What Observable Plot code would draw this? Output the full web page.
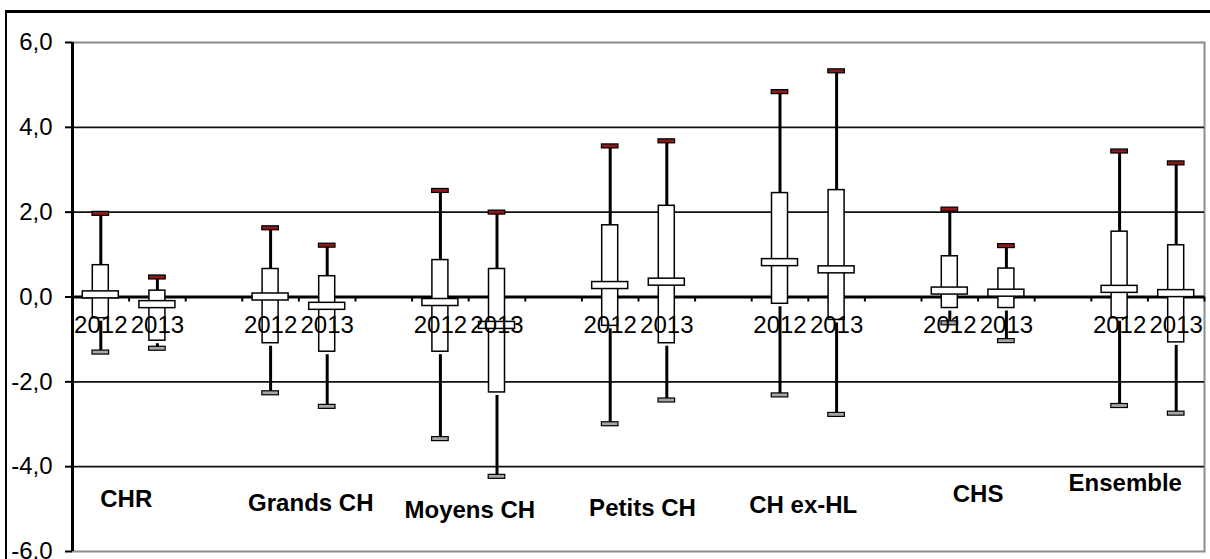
<!DOCTYPE html>
<html><head><meta charset="utf-8">
<script src="https://cdn.jsdelivr.net/npm/d3@7"></script>
<script src="https://cdn.jsdelivr.net/npm/@observablehq/plot@0.6"></script>
<style>
body{margin:0;background:#fff;overflow:hidden}
#wrap{position:relative;width:1210px;height:559px;overflow:hidden;background:#fff}
#border{position:absolute;left:5px;top:10px;width:1300px;height:700px;border-top:3px solid #000;border-left:2px solid #000;pointer-events:none}
</style></head><body>
<div id="wrap"><div id="chart"></div><div id="border"></div></div>
<script>
// ---- data ----
const categories = ["CHR", "Grands CH", "Moyens CH", "Petits CH", "CH ex-HL", "CHS", "Ensemble"];
const years = ["2012", "2013"];
// values listed category by category, 2012 then 2013
const maxValues    = [1.96, 0.46, 1.62, 1.21, 2.50, 1.99, 3.55, 3.67, 4.83, 5.32, 2.06, 1.20, 3.43, 3.15];
const q3Values     = [0.75, 0.15, 0.66, 0.49, 0.87, 0.66, 1.69, 2.15, 2.45, 2.52, 0.96, 0.67, 1.54, 1.22];
const medianValues = [0.05, -0.18, 0.00, -0.22, -0.13, -0.67, 0.27, 0.35, 0.81, 0.64, 0.14, 0.09, 0.18, 0.08];
const q1Values     = [-0.50, -1.03, -1.09, -1.29, -1.29, -2.25, -0.68, -1.09, -0.16, -0.54, -0.26, -0.26, -0.50, -1.07];
const minValues    = [-1.31, -1.22, -2.27, -2.59, -3.35, -4.24, -3.00, -2.44, -2.32, -2.78, -0.62, -1.04, -2.57, -2.75];
const yTicks = [-6, -4, -2, 0, 2, 4, 6];
// category label annotations (position in slot units / value units)
const labelX = [0.95, 4.21, 7.02, 10.07, 12.91, 16.0, 18.6];
const labelY = [-4.76, -4.86, -5.03, -4.99, -4.91, -4.64, -4.39];

// ---- build table ----
const rows = [];
categories.forEach((c, ci) => years.forEach((yr, yi) => {
  const k = ci * 2 + yi;
  rows.push({category: c, year: yr, slot: ci * 3 + yi,
    max: maxValues[k], q3: q3Values[k], median: medianValues[k], q1: q1Values[k], min: minValues[k]});
}));
const nSlots = categories.length * 3 - 1;
const slotEdges = d3.range(1, nSlots + 1);
const catLabels = categories.map((c, i) => ({name: c, x: labelX[i], y: labelY[i]}));
const gridValues = yTicks.filter(v => v !== 0 && Math.abs(v) !== 6);
const fmt = d => d.toFixed(1).replace(".", ",");

const chart = Plot.plot({
  width: 1210, height: 559,
  marginLeft: 72, marginRight: 6, marginTop: 42, marginBottom: 8,
  style: {background: "transparent", fontFamily: "'Liberation Sans', Arial, sans-serif", color: "#000"},
  x: {domain: [0, nSlots], axis: null},
  y: {domain: [-6, 6], axis: null},
  marks: [
    Plot.frame({stroke: "#8c8c8c", strokeWidth: 2}),
    Plot.ruleY(gridValues, {stroke: "#111", strokeWidth: 1.7}),
    Plot.ruleY([0], {stroke: "#000", strokeWidth: 3}),
    // whiskers
    Plot.ruleX(rows, {x: d => d.slot + 0.5, y1: "q3", y2: "max", stroke: "#000", strokeWidth: 3}),
    Plot.ruleX(rows, {x: d => d.slot + 0.5, y1: "q1", y2: "min", insetTop: 3, stroke: "#000", strokeWidth: 3}),
    // boxes
    Plot.rect(rows, {x1: "slot", x2: d => d.slot + 1, y1: "q1", y2: "q3",
      insetLeft: 20.3, insetRight: 20.3, fill: "#fff", stroke: "#000", strokeWidth: 1.5}),
    // caps
    Plot.rect(rows, {x1: "slot", x2: d => d.slot + 1, y1: "max", y2: "max",
      insetLeft: 20, insetRight: 20, insetTop: -2, insetBottom: -2, fill: "#8b1a1a", stroke: "#000", strokeWidth: 1.2}),
    Plot.rect(rows, {x1: "slot", x2: d => d.slot + 1, y1: "min", y2: "min",
      insetLeft: 20, insetRight: 20, insetTop: -2, insetBottom: -2, fill: "#a6a6a6", stroke: "#000", strokeWidth: 1.2}),
    // medians
    Plot.rect(rows, {x1: "slot", x2: d => d.slot + 1, y1: "median", y2: "median",
      insetLeft: 10.3, insetRight: 10.3, insetTop: -3.5, insetBottom: -3.5, fill: "#fff", stroke: "#000", strokeWidth: 1.5}),
    // y axis
    Plot.ruleX([0], {stroke: "#000", strokeWidth: 3}),
    Plot.axisY({ticks: yTicks, tickFormat: fmt, tickSize: 7, tickPadding: 13, fontSize: 24, strokeWidth: 2}),
    // x ticks on zero line
    Plot.ruleX(slotEdges, {x: d => d, y1: 0, y2: 0, insetBottom: -5, stroke: "#000", strokeWidth: 2}),
    // year labels
    Plot.text(rows, {x: d => d.slot + 0.5, y: 0, dy: 28, text: "year", fontSize: 24, fill: "#000"}),
    // category labels
    Plot.text(catLabels, {x: "x", y: "y", text: "name", fontSize: 24, fontWeight: "bold", fill: "#000"})
  ]
});
document.getElementById("chart").appendChild(chart);
</script>
</body></html>
